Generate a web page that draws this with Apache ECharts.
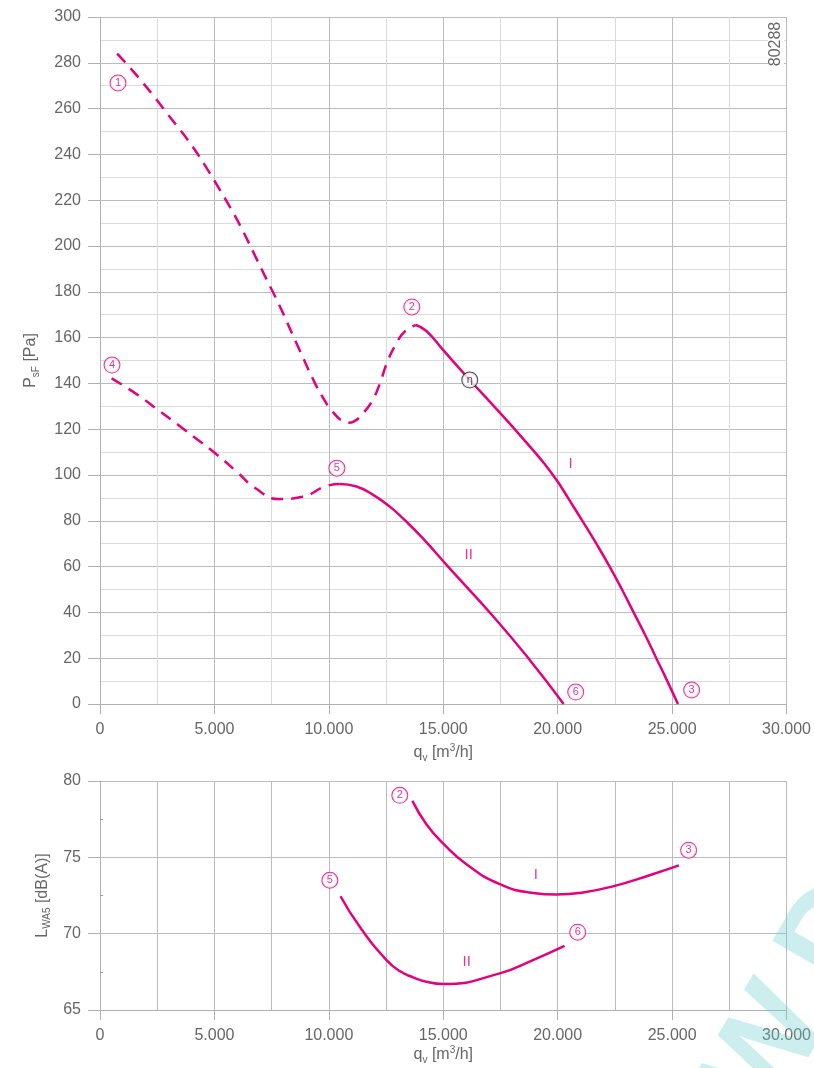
<!DOCTYPE html>
<html><head><meta charset="utf-8">
<script src="https://cdn.jsdelivr.net/npm/echarts@6/dist/echarts.min.js"></script>
<style>html,body{margin:0;padding:0;background:#fff}#c{width:814px;height:1068px}</style>
</head><body><div id="c"></div>
<script>
// ---- data (q_v in m3/h, pressure in Pa, sound power in dB(A)) ----
const curveIDashed = [[750,284],[2500,263.5],[5000,228.5],[7500,181],[8700,155],[9300,142],[9700,134.5],[10120,128.2],[10600,123.5],[10850,122.8],[11100,123.4],[11500,127],[11900,132.5],[12230,140],[12560,149.5],[12950,157.5],[13300,162.5],[13800,165.5]];
const curveISolid = [[13800,165.5],[14250,163],[15000,154.5],[16160,141.5],[17220,130],[18123,120],[18997,110],[19411,105],[19825,99.6],[20140,95],[20451,90],[21078,80],[21689,70],[22270,60],[22809,50],[23318,40],[23828,30],[24309,20],[24790,10],[25255,0]];
const curveIIDashed = [[510,142.2],[1703,134.6],[2577,128.1],[3450,121.6],[4294,115.2],[5167,108.4],[5968,101.5],[6799,94.2],[7817,89.5],[8836,90.5],[9898,95.2],[10480,96.1]];
const curveIISolid = [[10480,96.1],[11208,95],[11936,91.3],[12664,86.2],[13392,79.6],[14120,72.2],[15211,60],[17320,36.7],[18780,19.2],[20260,0]];
const noiseI = [[13650,78.7],[14262,77.17],[14993,75.91],[16011,74.55],[17468,73.24],[18924,72.67],[19943,72.57],[21106,72.7],[22416,73.1],[24018,73.83],[25299,74.47]];
const noiseII = [[10510,72.45],[11350,70.45],[12520,68.27],[13100,67.55],[13680,67.14],[14260,66.85],[15000,66.7],[17470,67.4],[18920,68.27],[20300,69.2]];
const topMarks = [[786,271.2,'1'],[13625,173.4,'2'],[25853,6.1,'3'],[524,148,'4'],[10350,103,'5'],[20787,5.2,'6']];
const etaMark = [[16158,141.5,'η']];
const topRoman = [[20569,104.8,'I'],[16114,65,'II']];
const botMarks = [[13100,79.06,'2'],[25722,75.47,'3'],[10044,73.5,'5'],[20874,70.1,'6']];
const botRoman = [[19040,73.83,'I'],[16027,68.14,'II']];
const xTitleParts = ['q','v',' [m','3','/h]'];

const PINK = '#e5007d';
const FONT = '"Liberation Sans", Arial, sans-serif';
const MAJOR = '#bcbcbc', MINOR = '#dbdbdb', AXIS = '#b0b0b0', TXT = '#666';
const fmt = v => String(v).replace(/\B(?=(\d{3})+(?!\d))/g, '.');

const nameRich = {
  a: {fontSize: 16, lineHeight: 20, color: TXT, fontFamily: FONT},
  s: {fontSize: 10, lineHeight: 10, verticalAlign: 'bottom', color: TXT, fontFamily: FONT},
  p: {fontSize: 10, lineHeight: 10, verticalAlign: 'top', color: TXT, fontFamily: FONT}
};
const xName = '{a|' + xTitleParts[0] + '}{s|' + xTitleParts[1] + '}{a|' + xTitleParts[2] + '}{p|' + xTitleParts[3] + '}{a|' + xTitleParts[4] + '}';

function xAxis(gi, gap, margin, minorGrid) {
  return {
    type: 'value', gridIndex: gi, min: 0, max: 30000, interval: 5000,
    axisLine: {show: true, onZero: false, lineStyle: {color: AXIS}},
    axisTick: {show: true, length: 10, lineStyle: {color: AXIS}},
    axisLabel: {margin: margin, fontSize: 16, color: TXT, fontFamily: FONT, formatter: fmt},
    splitLine: {show: true, lineStyle: {color: MAJOR}},
    minorTick: {show: false, splitNumber: 2},
    minorSplitLine: {show: true, lineStyle: {color: minorGrid}},
    name: xName, nameLocation: 'middle', nameGap: gap,
    nameTextStyle: {rich: nameRich}
  };
}

const circleRich = (col) => ({
  c: {width: 15, height: 15, lineHeight: 15, align: 'center', fontSize: 11, color: col, fontFamily: FONT,
      borderColor: col, borderWidth: 1, borderRadius: 7.5, backgroundColor: '#fff'}
});

function labelSeries(xi, data, rich, wrap) {
  return {
    type: 'scatter', xAxisIndex: xi, yAxisIndex: xi, data: data, symbolSize: 1,
    itemStyle: {color: 'rgba(0,0,0,0)'}, z: 10, silent: true,
    label: {show: true, position: 'inside', formatter: p => wrap(p.value[2]), rich: rich}
  };
}
const romanLabel = (xi, data) => ({
  type: 'scatter', xAxisIndex: xi, yAxisIndex: xi, data: data, symbolSize: 1,
  itemStyle: {color: 'rgba(0,0,0,0)'}, z: 10, silent: true,
  label: {show: true, position: 'inside', formatter: p => p.value[2], color: PINK, fontSize: 15, fontFamily: FONT}
});

function line(xi, data, dashed) {
  return {
    type: 'line', xAxisIndex: xi, yAxisIndex: xi, data: data, smooth: 0.5, showSymbol: false,
    silent: true, z: 5,
    lineStyle: {color: PINK, width: 2.5, type: dashed ? [12, 8] : 'solid'}
  };
}

const chart = echarts.init(document.getElementById('c'), null, {renderer: 'canvas'});
chart.setOption({
  animation: false,
  backgroundColor: '#fff',
  grid: [
    {left: 100, top: 17, width: 687, height: 687},
    {left: 100, top: 781, width: 687, height: 229}
  ],
  xAxis: [xAxis(0, 36, 18, MINOR), xAxis(1, 35, 18, MAJOR)],
  yAxis: [
    {
      type: 'value', gridIndex: 0, min: 0, max: 300, interval: 20,
      axisLine: {show: true, lineStyle: {color: AXIS}},
      axisTick: {show: true, length: 12, lineStyle: {color: AXIS}},
      axisLabel: {margin: 19, fontSize: 16, color: TXT, fontFamily: FONT},
      splitLine: {show: true, lineStyle: {color: MAJOR}},
      minorTick: {show: false, splitNumber: 2},
      minorSplitLine: {show: true, lineStyle: {color: MINOR}},
      name: '{a|P}{s|sF}{a| [Pa]}', nameLocation: 'middle', nameGap: 59,
      nameTextStyle: {rich: nameRich}
    },
    {
      type: 'value', gridIndex: 1, min: 65, max: 80, interval: 5,
      axisLine: {show: true, lineStyle: {color: AXIS}},
      axisTick: {show: true, length: 12, lineStyle: {color: AXIS}},
      axisLabel: {margin: 19, fontSize: 16, color: TXT, fontFamily: FONT},
      splitLine: {show: true, lineStyle: {color: MAJOR}},
      minorTick: {show: true, splitNumber: 2, length: -3, lineStyle: {color: '#999'}},
      minorSplitLine: {show: false},
      name: '{a|L}{s|WA5}{a| [dB(A)]}', nameLocation: 'middle', nameGap: 45,
      nameTextStyle: {rich: nameRich}
    }
  ],
  graphic: [
    {type: 'text', x: 776, y: 44, rotation: Math.PI / 2, z: 20,
     style: {text: '80288', font: '16px ' + FONT, fill: TXT, align: 'center', verticalAlign: 'middle',
             backgroundColor: '#fff', padding: [0, 2]}},
    {type: 'text', x: 800, y: 1000, rotation: Math.PI / 3, z: 30, silent: true,
     style: {text: 'W.D', font: 'bold 130px ' + FONT, fill: 'rgba(110,205,205,0.35)', align: 'center', verticalAlign: 'middle'}}
  ],
  series: [
    line(0, curveIDashed, true), line(0, curveISolid, false),
    line(0, curveIIDashed, true), line(0, curveIISolid, false),
    line(1, noiseI, false), line(1, noiseII, false),
    labelSeries(0, topMarks, circleRich(PINK), v => '{c|' + v + '}'),
    labelSeries(0, etaMark, circleRich('#222'), v => '{c|' + v + '}'),
    labelSeries(1, botMarks, circleRich(PINK), v => '{c|' + v + '}'),
    romanLabel(0, topRoman), romanLabel(1, botRoman)
  ]
});
</script></body></html>
